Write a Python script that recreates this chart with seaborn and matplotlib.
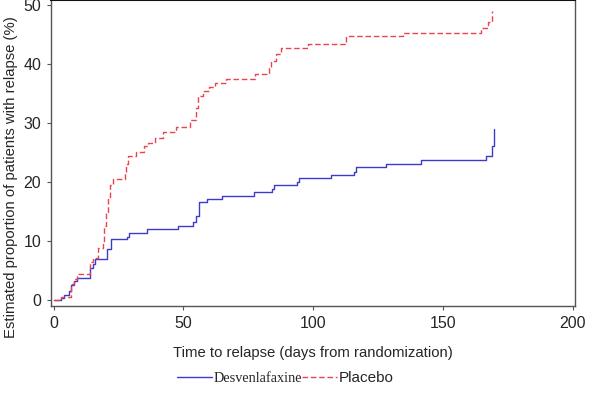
import matplotlib
matplotlib.use("Agg")
import matplotlib.pyplot as plt
import pandas as pd
import seaborn as sns

# step points: (day the step happens, cumulative % relapsed after it)
desv_days = [0, 2.8, 4.0, 5.9, 6.8, 7.9, 8.9, 14.1, 15.1, 16.0, 20.7, 22.0,
             28.2, 29.1, 36.0, 47.9, 53.7, 54.7, 55.9, 59.2, 65.0, 77.2, 84.1,
             85.0, 93.8, 94.5, 106.7, 115.6, 116.6, 127.9, 141.7, 166.5, 168.8, 169.7]
desv_pct = [0, 0.4, 0.8, 1.6, 2.5, 3.2, 3.8, 5.4, 6.2, 6.9, 8.7, 10.3,
            10.7, 11.4, 12.0, 12.5, 13.2, 14.2, 16.6, 17.1, 17.7, 18.3, 18.8,
            19.6, 20.1, 20.7, 21.3, 21.8, 22.6, 23.1, 23.8, 24.5, 26.2, 29.0]

plac_days = [0, 3.0, 6.8, 7.7, 9.0, 14.1, 15.2, 17.1, 19.0, 19.6, 20.2, 21.0,
             21.6, 22.9, 27.4, 28.0, 28.8, 31.9, 35.0, 36.5, 38.9, 42.1, 47.3,
             52.4, 55.0, 55.8, 57.6, 60.0, 62.0, 66.5, 77.5, 83.0, 83.9, 85.8,
             87.7, 97.8, 112.8, 134.6, 164.8, 167.4, 168.7]
plac_pct = [0, 0.6, 2.7, 3.6, 4.4, 6.5, 7.2, 8.9, 10.0, 12.5, 15.0, 17.5,
            19.6, 20.6, 21.5, 23.1, 24.5, 25.1, 26.1, 26.7, 27.5, 28.6, 29.4,
            30.6, 32.6, 34.6, 35.4, 36.2, 36.8, 37.5, 38.3, 39.4, 40.6, 41.7,
            42.7, 43.5, 44.8, 45.3, 46.2, 47.1, 49.0]

x_ticks = [0, 50, 100, 150, 200]
y_ticks = [0, 10, 20, 30, 40, 50]

sns.set_style("white")
plt.rcParams['font.family'] = ['Liberation Sans', 'DejaVu Sans']

desv = pd.DataFrame({'day': desv_days, 'pct': desv_pct})
plac = pd.DataFrame({'day': plac_days, 'pct': plac_pct})

fig = plt.figure(figsize=(6.07, 3.97), dpi=100)
ax = fig.add_axes([0.084, 0.229, 0.864, 0.771])

sns.lineplot(data=desv, x='day', y='pct', ax=ax, color='#3c3ccc', lw=1.0,
             drawstyle='steps-post', label='Desvenlafaxine', legend=False)
sns.lineplot(data=plac, x='day', y='pct', ax=ax, color='#e8444e', lw=1.0,
             linestyle=(0, (4.0, 2.0)), drawstyle='steps-post',
             label='Placebo', legend=False)

ax.set_xlim(-1, 201)
ax.set_ylim(-1, 50.9)
ax.set_xticks(x_ticks)
ax.set_yticks(y_ticks)
ax.tick_params(direction='out', length=3, width=0.8, color='#555555',
               labelsize=11.5, pad=4, bottom=True, left=True)
for side in ['left', 'bottom', 'right']:
    ax.spines[side].set_color('#555555')
    ax.spines[side].set_linewidth(1.0)
ax.spines['top'].set_color('#111111')
ax.spines['top'].set_linewidth(1.5)

ax.set_xlabel('Time to relapse (days from randomization)', fontsize=10.7, labelpad=11)
ax.set_ylabel('Estimated proportion of patients with relapse (%)', fontsize=10.7)
ax.yaxis.set_label_coords(-0.063, 0.42)

handles, labels = ax.get_legend_handles_labels()
leg = fig.legend(handles, labels, loc='center', bbox_to_anchor=(0.47, 0.048),
                 ncol=2, frameon=False, fontsize=11, handlelength=2.3,
                 handletextpad=0.1, columnspacing=0.0, borderaxespad=0)
leg.get_texts()[0].set_family('Liberation Serif')
leg.get_texts()[0].set_fontsize(10.3)

print('Saving: out.png')
fig.savefig('out.png', dpi=100)
plt.close()
